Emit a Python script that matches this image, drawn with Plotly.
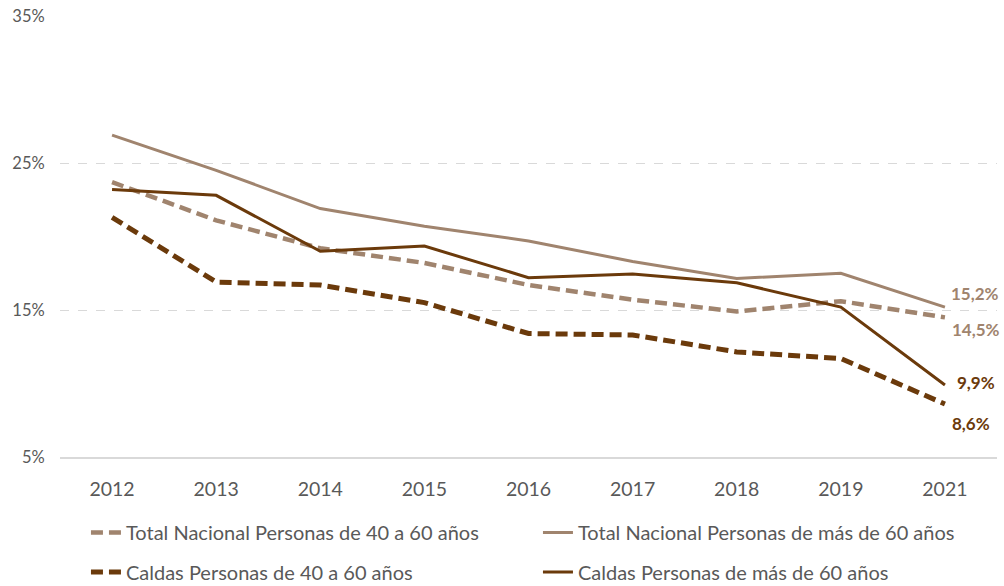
import plotly.graph_objects as go

years = ["2012", "2013", "2014", "2015", "2016", "2017", "2018", "2019", "2021"]
total_40_60 = [23.7, 21.1, 19.2, 18.2, 16.7, 15.7, 14.9, 15.6, 14.5]
total_60_mas = [26.9, 24.5, 21.9, 20.7, 19.7, 18.3, 17.15, 17.5, 15.2]
caldas_40_60 = [21.3, 16.9, 16.7, 15.5, 13.4, 13.3, 12.15, 11.7, 8.6]
caldas_60_mas = [23.2, 22.8, 19.0, 19.35, 17.2, 17.45, 16.85, 15.2, 9.9]

names = [
    "Total Nacional Personas de 40 a 60 años",
    "Total Nacional Personas de más de 60 años",
    "Caldas Personas de 40 a 60 años",
    "Caldas Personas de más de 60 años",
]
y_ticks = [5, 15, 25, 35]
y_ticktext = [f"{v}%" for v in y_ticks]

LIGHT = "#A0846E"
DARK = "#6B3A0B"
FONT = "Lato"

fig = go.Figure()
series = [
    (total_40_60, names[0], LIGHT, 4.5, "12px,6px", "legend"),
    (total_60_mas, names[1], LIGHT, 3, "solid", "legend"),
    (caldas_40_60, names[2], DARK, 5, "12px,6px", "legend2"),
    (caldas_60_mas, names[3], DARK, 3, "solid", "legend2"),
]
for vals, nm, col, w, dash, lg in series:
    fig.add_trace(go.Scatter(
        x=years, y=vals, name=nm, mode="lines",
        line=dict(color=col, width=w, dash=dash),
        legend=lg, hoverinfo="skip",
    ))

def fmt(v):
    return f"{v:.1f}".replace(".", ",") + "%"

label_specs = [
    (total_60_mas, LIGHT, 4, 14),
    (total_40_60, LIGHT, 5, -12),
    (caldas_60_mas, DARK, 10, 2),
    (caldas_40_60, DARK, 5, -19),
]
for vals, col, xs, ys in label_specs:
    fig.add_annotation(
        x=len(years) - 1, y=vals[-1], xref="x", yref="y",
        text=fmt(vals[-1]), showarrow=False,
        xanchor="left", yanchor="middle", xshift=xs, yshift=ys,
        font=dict(family=FONT, size=17, color=col, weight="bold"),
    )

legend_common = dict(
    orientation="h", xanchor="left", yanchor="top",
    font=dict(family=FONT, size=20, color="#595959"),
    entrywidth=407, entrywidthmode="pixels",
    bgcolor="rgba(0,0,0,0)",
)

fig.update_layout(
    width=1004, height=586,
    margin=dict(l=60, r=7, t=16, b=129, autoexpand=False),
    plot_bgcolor="white", paper_bgcolor="white",
    font=dict(family=FONT, color="#595959"),
    showlegend=True,
    legend=dict(x=0.0277, y=-0.127, **legend_common),
    legend2=dict(x=0.0277, y=-0.2166, **legend_common),
    xaxis=dict(
        type="category", range=[-0.5, len(years) - 0.5], automargin=False,
        showgrid=False, showline=True, linecolor="#D9D9D9", linewidth=1.5,
        ticks="outside", ticklen=14, tickcolor="rgba(0,0,0,0)",
        tickfont=dict(family=FONT, size=19.5, color="#595959"),
        zeroline=False,
    ),
    yaxis=dict(
        range=[5, 35], tickmode="array", tickvals=y_ticks, ticktext=y_ticktext,
        automargin=False,
        showgrid=True, gridcolor="#D9D9D9", gridwidth=1, griddash="dash",
        showline=False, zeroline=False,
        ticks="outside", ticklen=11, tickcolor="rgba(0,0,0,0)",
        tickfont=dict(family=FONT, size=16.5, color="#595959"),
    ),
)

fig.write_html(
    "out.html",
    config={"displayModeBar": False},
    post_script="document.body.style.margin='0';document.body.style.overflow='hidden';",
)
